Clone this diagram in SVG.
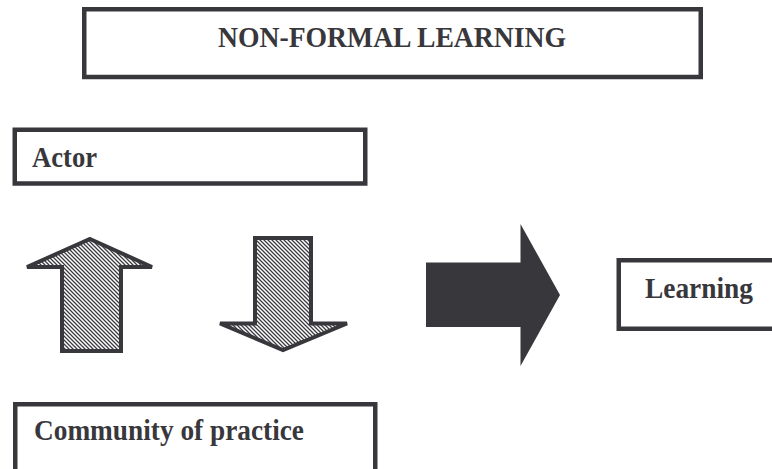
<svg xmlns="http://www.w3.org/2000/svg" width="772" height="469" viewBox="0 0 772 469">
<style>
.box{fill:#fff;stroke:#38373c;stroke-width:4.5}
.lbl{font-family:"Liberation Serif","Times New Roman",serif;font-weight:bold;font-size:28.5px;fill:#38373c}
.hatch{fill:url(#hatch);stroke:#38373c;stroke-width:4;stroke-linejoin:miter}
.solid{fill:#38373c}
</style>
<defs>
<pattern id="hatch" patternUnits="userSpaceOnUse" width="4" height="4">
<rect width="4" height="4" fill="#fff"/>
<path d="M-1,-1 L5,5 M-1,3 L1,5 M3,-1 L5,1" stroke="#3c3b40" stroke-width="1.3"/>
</pattern>
</defs>
<rect width="772" height="469" fill="#fff"/>
<g id="title">
<rect class="box" x="84.25" y="9.25" width="616.5" height="67.75"/>
<text class="lbl" x="218" y="47" textLength="348" lengthAdjust="spacingAndGlyphs">NON-FORMAL LEARNING</text>
</g>
<g id="actor">
<rect class="box" x="14.75" y="129.75" width="350.5" height="53.75"/>
<text class="lbl" x="32" y="167" textLength="65" lengthAdjust="spacingAndGlyphs">Actor</text>
</g>
<g id="community">
<rect class="box" x="15.25" y="404.25" width="360" height="80"/>
<text class="lbl" x="34" y="440" textLength="270" lengthAdjust="spacingAndGlyphs">Community of practice</text>
</g>
<g id="learning">
<rect class="box" x="618.75" y="260.25" width="170" height="68.5"/>
<text class="lbl" x="645" y="298" textLength="108" lengthAdjust="spacingAndGlyphs">Learning</text>
</g>
<g id="connectors">
<polygon id="arrow-up" class="hatch" points="90,239 152,267 121,267 121,351 62,351 62,267 27,267"/>
<polygon id="arrow-down" class="hatch" points="255,238 311,238 311,323.5 347,323.5 283,350 220,323.5 255,323.5"/>
<polygon id="arrow-right" class="solid" points="426,262.5 520.5,262.5 520.5,224 560,295 520.5,366 520.5,327 426,327"/>
</g>
</svg>
